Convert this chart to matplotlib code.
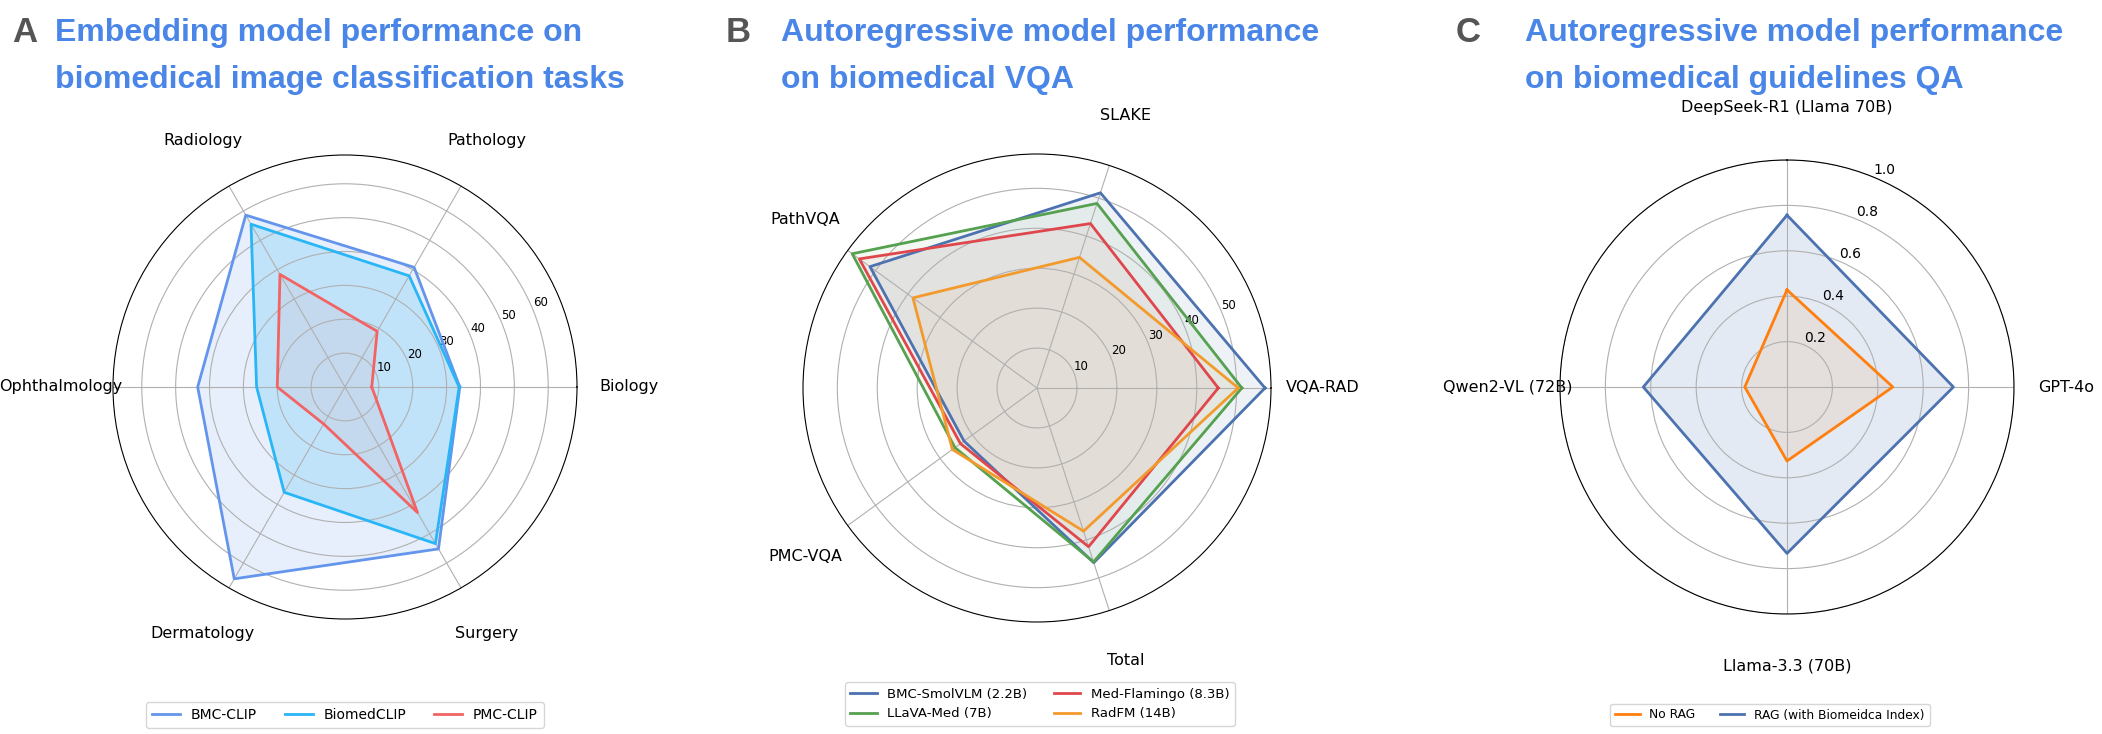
import numpy as np
import matplotlib.pyplot as plt
from matplotlib import font_manager

# Panel A: embedding models, image classification
a_categories = ["Biology", "Pathology", "Radiology", "Ophthalmology", "Dermatology", "Surgery"]
bmc_clip = [33.9, 40.8, 58.6, 43.5, 65.4, 55.2]
biomedclip = [33.7, 37.9, 55.5, 26.1, 35.9, 53.4]
pmc_clip = [7.9, 19.0, 38.4, 20.0, 12.6, 42.8]

# Panel B: autoregressive models, VQA
b_categories = ["VQA-RAD", "SLAKE", "PathVQA", "PMC-VQA", "Total"]
bmc_smolvlm = [57.1, 51.4, 51.7, 22.6, 46.0]
llava_med = [51.3, 48.6, 57.2, 25.4, 45.8]
med_flamingo = [45.4, 43.3, 55.0, 23.7, 41.8]
radfm = [50.4, 34.4, 38.4, 26.2, 37.7]

# Panel C: guidelines QA
c_categories = ["DeepSeek-R1 (Llama 70B)", "GPT-4o", "Llama-3.3 (70B)", "Qwen2-VL (72B)"]
no_rag = [0.428, 0.466, 0.326, 0.186]
rag = [0.757, 0.733, 0.733, 0.633]

names = {f.name for f in font_manager.fontManager.ttflist}
if "Liberation Sans Narrow" in names:
    title_font, title_size, letter_size = "Liberation Sans Narrow", 28, 30
else:
    title_font, title_size, letter_size = "Liberation Sans", 23, 25

W, H = 2102, 734
fig = plt.figure(figsize=(W / 100, H / 100), dpi=100)


def polar_ax(cx, cy, r):
    return fig.add_axes([(cx - r) / W, 1 - (cy + r) / H, 2 * r / W, 2 * r / H],
                        projection="polar")


def radar(ax, cats, values, color, alpha, label):
    n = len(cats)
    ang = np.linspace(0, 2 * np.pi, n, endpoint=False)
    ang = np.concatenate([ang, ang[:1]])
    vals = list(values) + [values[0]]
    ax.plot(ang, vals, color=color, lw=2, label=label)
    ax.fill(ang, vals, color=color, alpha=alpha)
    ax.set_xticks(ang[:-1])
    ax.set_xticklabels(cats, fontsize=11.5)
    ax.tick_params(axis="x", pad=27)
    ax.tick_params(axis="y", labelsize=8.5)


def title(x_letter, x_text, letter, text):
    fig.text(x_letter / W, 1 - 42 / H, letter, fontfamily=title_font, fontweight="bold",
             fontsize=letter_size, color="#555555", va="baseline")
    # one baseline per line
    for i, line in enumerate(text.split("\n")):
        fig.text(x_text / W, 1 - (41 + 47 * i) / H, line, fontfamily=title_font,
                 fontweight="bold", fontsize=title_size, color="#4A86E8", va="baseline")


# A
ax = polar_ax(345, 387, 232)
radar(ax, a_categories, bmc_clip, "#6495ED", 0.15, "BMC-CLIP")
radar(ax, a_categories, biomedclip, "#29B6F6", 0.2, "BiomedCLIP")
radar(ax, a_categories, pmc_clip, "#F26464", 0.08, "PMC-CLIP")
ax.set_ylim(0, 68.5)
ax.legend(loc="center", bbox_to_anchor=(345 / W, 1 - 715 / H),
          bbox_transform=fig.transFigure, ncol=3, fontsize=10)
title(12, 55, "A", "Embedding model performance on\nbiomedical image classification tasks")

# B
ax = polar_ax(1037, 388, 234)
radar(ax, b_categories, bmc_smolvlm, "#4C72B0", 0.09, "BMC-SmolVLM (2.2B)")
radar(ax, b_categories, llava_med, "#55A14F", 0.07, "LLaVA-Med (7B)")
radar(ax, b_categories, med_flamingo, "#E0474C", 0.06, "Med-Flamingo (8.3B)")
radar(ax, b_categories, radfm, "#F39A2C", 0.06, "RadFM (14B)")
ax.set_ylim(0, 58.6)
ax.legend(loc="center", bbox_to_anchor=(1040 / W, 1 - 704 / H),
          bbox_transform=fig.transFigure, ncol=2, fontsize=9.5)
title(726, 781, "B", "Autoregressive model performance\non biomedical VQA")

# C
ax = polar_ax(1787, 387, 227)
ax.set_theta_offset(np.pi / 2)
ax.set_theta_direction(-1)
radar(ax, c_categories, no_rag, "#FF7F0E", 0.1, "No RAG")
radar(ax, c_categories, rag, "#4C72B0", 0.15, "RAG (with Biomeidca Index)")
ax.set_ylim(0, 1.0)
ax.set_yticks([0.2, 0.4, 0.6, 0.8, 1.0])
ax.tick_params(axis="y", labelsize=10)
ax.legend(loc="center", bbox_to_anchor=(1770 / W, 1 - 715 / H),
          bbox_transform=fig.transFigure, ncol=2, fontsize=8.8)
title(1456, 1525, "C", "Autoregressive model performance\non biomedical guidelines QA")

fig.savefig("out.png", dpi=100)
